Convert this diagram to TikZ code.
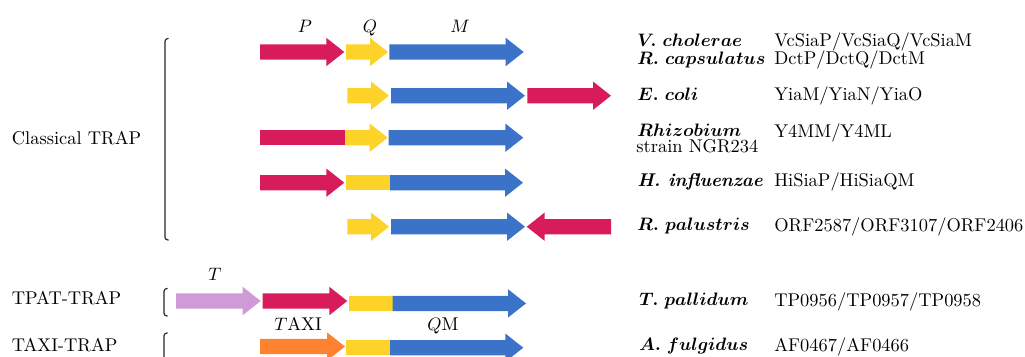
\documentclass[tikz,border=0pt]{standalone}
\usepackage{tikz}
\definecolor{gRed}{HTML}{D81B5B}
\definecolor{gYel}{HTML}{FDD32A}
\definecolor{gBlu}{HTML}{3A73C8}
\definecolor{gPur}{HTML}{D09AD8}
\definecolor{gOra}{HTML}{FF8230}
\newcommand\garrow[4]{% colour, start x, tip x, centre y
  \fill[#1] (#2,#4-7.6) -- (#3-18,#4-7.6) -- (#3-18,#4-14.2) -- (#3,#4)
    -- (#3-18,#4+14.2) -- (#3-18,#4+7.6) -- (#2,#4+7.6) -- cycle;}
\newcommand\garrowL[4]{% colour, tip x, end x, centre y
  \fill[#1] (#3,#4-7.6) -- (#2+18,#4-7.6) -- (#2+18,#4-14.2) -- (#2,#4)
    -- (#2+18,#4+14.2) -- (#2+18,#4+7.6) -- (#3,#4+7.6) -- cycle;}
\newcommand\gbox[4]{% colour, start x, end x, centre y
  \fill[#1] (#2,#4-7.6) rectangle (#3,#4+7.6);}
\newcommand\spname[1]{{\boldmath$#1$}}
\tikzset{
  lbl/.style={anchor=base west, inner sep=0pt, font=\fontsize{10.25}{12}\selectfont},
  sp/.style={lbl},
  mlab/.style={anchor=base, inner sep=0pt, font=\fontsize{10.25}{12}\selectfont},
  brk/.style={line width=0.65pt, draw=black!85, rounded corners=1.6pt},
}
\begin{document}
\begin{tikzpicture}[x=0.5556pt, y=-0.5556pt]
\useasboundingbox (0,0) rectangle (1025,356);

% group labels
\node[lbl] (cl) at (11.5,144) {Classical TRAP};
\node[lbl] (tp) at (11.5,304) {TPAT-TRAP};
\node[lbl] (tx) at (11.5,351) {TAXI-TRAP};

% brackets
\draw[brk] (168.5,38.5) -- (165,38.5) -- (165,240) -- (168.5,240);
\draw[brk] (167.5,288.5) -- (164,288.5) -- (164,316) -- (167.5,316);
\draw[brk] (167.5,333) -- (164,333) -- (164,360);

% gene labels
\node[mlab] (lP) at (305,32) {$P$};
\node[mlab] (lQ) at (370,32) {$Q$};
\node[mlab] (lM) at (460,32) {$M$};
\node[mlab] (lT) at (215,280) {$T$};
\node[mlab] (lTAXI) at (298,330) {$T$AXI};
\node[mlab] (lQM) at (443,330) {$Q$M};

% row 1: V. cholerae / R. capsulatus
\garrow{gRed}{260}{344.3}{52}
\garrow{gYel}{346}{388}{52}
\garrow{gBlu}{389.3}{523.7}{52}
% row 2: E. coli
\garrow{gYel}{347.3}{389}{95.7}
\garrow{gBlu}{391}{525}{95.7}
\garrow{gRed}{527.3}{611}{95.7}
% row 3: Rhizobium
\gbox{gRed}{260}{345.2}{137.7}
\garrow{gYel}{345}{387.7}{137.7}
\garrow{gBlu}{388.7}{523.3}{137.7}
% row 4: H. influenzae
\garrow{gRed}{260}{344.3}{182.7}
\gbox{gYel}{346}{390.2}{182.7}
\garrow{gBlu}{390}{523}{182.7}
% row 5: R. palustris
\garrow{gYel}{347.3}{389}{226.7}
\garrow{gBlu}{391}{525}{226.7}
\garrowL{gRed}{526.7}{611}{226.7}
% TPAT-TRAP
\garrow{gPur}{176}{260.7}{301}
\garrow{gRed}{262.7}{347.3}{301}
\gbox{gYel}{349}{392.9}{303.4}
\garrow{gBlu}{392.7}{526}{303.4}
% TAXI-TRAP
\garrow{gOra}{260}{345}{346.5}
\gbox{gYel}{346}{390.2}{347.7}
\garrow{gBlu}{390}{523.3}{347.7}

% species
\node[sp] (s1) at (637,46.5) {\spname{V.\ cholerae}};
\node[sp] (s2) at (637,64.3) {\spname{R.\ capsulatus}};
\node[sp] (s3) at (637,100) {\spname{E.\ coli}};
\node[sp] (s4) at (637,136) {\spname{Rhizobium}};
\node[lbl] (s4b) at (636,152.7) {strain NGR234};
\node[sp] (s5) at (637,186.5) {\bfseries\itshape H. influenzae};
\node[sp] (s6) at (637,230) {\spname{R.\ palustris}};
\node[sp] (s7) at (639,305) {\spname{T.\ pallidum}};
\node[sp] (s8) at (639,350) {\spname{A.\ fulgidus}};

% gene names
\node[lbl] (g1) at (774,46) {VcSiaP/VcSiaQ/VcSiaM};
\node[lbl] (g2) at (774,64.3) {DctP/DctQ/DctM};
\node[lbl] (g3) at (774,100) {YiaM/YiaN/YiaO};
\node[lbl] (g4) at (774,137) {Y4MM/Y4ML};
\node[lbl] (g5) at (774,186) {HiSiaP/HiSiaQM};
\node[lbl] (g6) at (774,231) {ORF2587/ORF3107/ORF2406};
\node[lbl] (g7) at (774,306.5) {TP0956/TP0957/TP0958};
\node[lbl] (g8) at (774,351) {AF0467/AF0466};
\end{tikzpicture}
\end{document}
